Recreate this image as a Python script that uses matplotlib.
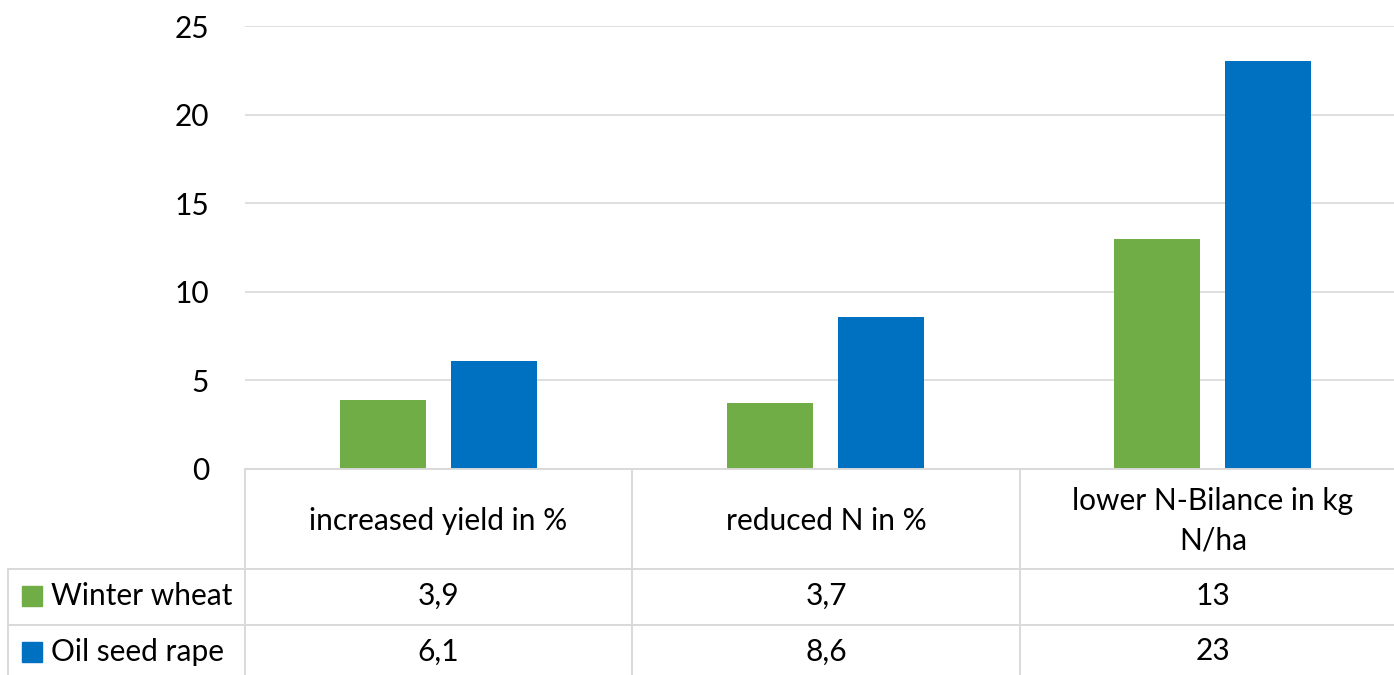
import matplotlib
matplotlib.use("Agg")
import matplotlib.pyplot as plt
from matplotlib.lines import Line2D
from matplotlib.patches import Rectangle
import numpy as np

categories = ["increased yield in %", "reduced N in %", "lower N-Bilance in kg\nN/ha"]
series_names = ["Winter wheat", "Oil seed rape"]
winter_wheat = [3.9, 3.7, 13]
oil_seed_rape = [6.1, 8.6, 23]
value_labels = [["3,9", "3,7", "13"], ["6,1", "8,6", "23"]]
y_ticks = [0, 5, 10, 15, 20, 25]

colors = ["#70ad47", "#0070c0"]
grid_color = "#d9d9d9"
text_color = "#000000"
font = "Lato"
fs = 21.5

W, H = 1394, 675
fig = plt.figure(figsize=(W / 100, H / 100), dpi=100)
fig.patch.set_facecolor("white")

def fx(px):
    return px / W

def fy(py):
    return 1 - py / H

# plot area (its right part runs past the figure edge)
left_px, right_px, top_px, base_px = 245, 1406, 26, 469
ax = fig.add_axes([fx(left_px), fy(base_px), fx(right_px - left_px), (base_px - top_px) / H])
ax.set_xlim(-0.5, len(categories) - 0.5)
ax.set_ylim(0, 25)
ax.set_yticks(y_ticks)
ax.set_yticklabels([str(t) for t in y_ticks], fontsize=fs, family=font, color=text_color)
ax.tick_params(axis="y", length=0, pad=26)
ax.set_xticks([])
for s in ax.spines.values():
    s.set_visible(False)
ax.yaxis.grid(True, color=grid_color, linewidth=1.2)
ax.set_axisbelow(True)

x = np.arange(len(categories))
bw = 0.222
off = 0.1425
ax.bar(x - off, winter_wheat, width=bw, color=colors[0], zorder=3)
ax.bar(x + off, oil_seed_rape, width=bw, color=colors[1], zorder=3)

# data table beneath the plot
col_edges = [left_px, 632, 1020, right_px]
row_edges = [469, 569, 625, 690]
lw = 1.4

def hline(y, x0, x1):
    fig.add_artist(Line2D([fx(x0), fx(x1)], [fy(y), fy(y)], color=grid_color, lw=lw))

def vline(xp, y0, y1):
    fig.add_artist(Line2D([fx(xp), fx(xp)], [fy(y0), fy(y1)], color=grid_color, lw=lw))

hline(row_edges[0], left_px, W + 20)
hline(row_edges[1], 8, W + 20)
hline(row_edges[2], 8, W + 20)
vline(8, row_edges[1], row_edges[3])
for c in col_edges[:3]:
    vline(c, row_edges[0], row_edges[3])

for i, cat in enumerate(categories):
    cx = (col_edges[i] + col_edges[i + 1]) / 2
    fig.text(fx(cx), fy((row_edges[0] + row_edges[1]) / 2 + 2), cat, ha="center", va="center",
             fontsize=fs, family=font, color=text_color, linespacing=1.5)

for r in range(2):
    cy = (row_edges[r + 1] + min(row_edges[r + 2], 680)) / 2 - 1
    fig.add_artist(Rectangle((fx(22), fy(cy + 10)), fx(20), 20 / H, color=colors[r]))
    fig.text(fx(51), fy(cy), series_names[r], ha="left", va="center",
             fontsize=fs, family=font, color=text_color)
    for i in range(3):
        cx = (col_edges[i] + col_edges[i + 1]) / 2
        fig.text(fx(cx), fy(cy), value_labels[r][i], ha="center", va="center",
                 fontsize=fs, family=font, color=text_color)

fig.savefig("out.png", dpi=100, facecolor="white")
